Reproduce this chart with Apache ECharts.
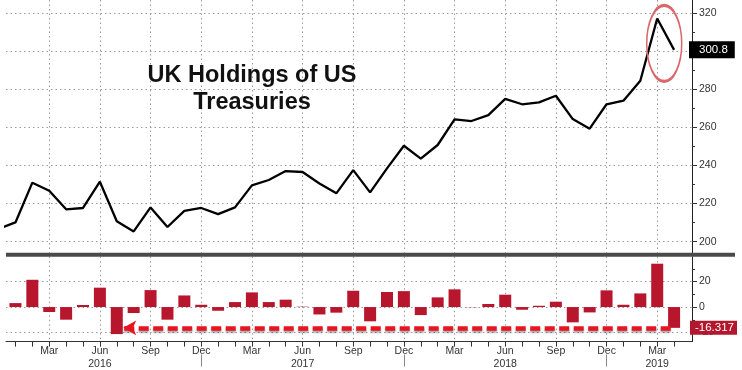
<!DOCTYPE html>
<html>
<head>
<meta charset="utf-8">
<script src="https://cdn.jsdelivr.net/npm/echarts@6/dist/echarts.min.js"></script>
<style>
html,body{margin:0;padding:0;background:#fff;}
#chart{width:742px;height:370px;}
</style>
</head>
<body>
<div id="chart"></div>
<script>
// ---- data ----
const periods = ['Dec 2015',
  'Jan 2016','Feb 2016','Mar 2016','Apr 2016','May 2016','Jun 2016','Jul 2016','Aug 2016','Sep 2016','Oct 2016','Nov 2016','Dec 2016',
  'Jan 2017','Feb 2017','Mar 2017','Apr 2017','May 2017','Jun 2017','Jul 2017','Aug 2017','Sep 2017','Oct 2017','Nov 2017','Dec 2017',
  'Jan 2018','Feb 2018','Mar 2018','Apr 2018','May 2018','Jun 2018','Jul 2018','Aug 2018','Sep 2018','Oct 2018','Nov 2018','Dec 2018',
  'Jan 2019','Feb 2019','Mar 2019','Apr 2019'];
const holdings = [206.8,
  210.1, 231.0, 226.8, 217.0, 217.7, 231.5, 210.7, 205.4, 218.0, 207.7, 216.2, 217.7,
  214.5, 218.0, 229.6, 232.4, 237.1, 236.6, 230.6, 225.4, 237.6, 225.9, 238.5, 250.4,
  243.6, 250.8, 264.3, 263.4, 266.5, 275.0, 272.2, 273.2, 276.7, 264.4, 259.4, 272.2,
  274.1, 284.6, 317.3, 300.8];
const changePeriods = periods.slice(1);
const changes = [
  3.1, 21.4, -3.9, -9.9, 1.6, 15.2, -21.2, -4.7, 13.3, -9.9, 9.1, 1.8,
  -2.9, 3.9, 11.5, 3.9, 5.8, 0.3, -5.8, -4.4, 12.8, -11.2, 11.8, 12.5,
  -6.3, 7.6, 13.9, -0.2, 2.4, 9.7, -2.1, 1.0, 4.2, -12.0, -4.2, 13.1,
  1.8, 10.7, 34.0, -16.317];
const xLabelPeriods = ['Mar 2016','Jun 2016','Sep 2016','Dec 2016','Mar 2017','Jun 2017','Sep 2017','Dec 2017','Mar 2018','Jun 2018','Sep 2018','Dec 2018','Mar 2019'];
const xLabelTexts = ['Mar','Jun\n2016','Sep','Dec','Mar','Jun\n2017','Sep','Dec','Mar','Jun\n2018','Sep','Dec','Mar\n2019'];
const yearDividerPeriods = ['Dec 2016','Dec 2017','Dec 2018'];
const topTicks = [200, 220, 240, 260, 280, 300, 320];
const topMinorTicks = [200, 210, 220, 230, 240, 250, 260, 270, 280, 290, 300, 310, 320];
const bottomTicks = [-20, 0, 20];
const bottomMinorTicks = [-20, -10, 0, 10, 20, 30];
const titleLines = ['UK Holdings of US', 'Treasuries'];
const lastLevelLabel = '300.8';
const lastChangeLabel = '-16.317';

// ---- helpers ----
const xOf = p => periods.indexOf(p) - 1;
const monthIdx = changePeriods.map(xOf);
const quarterIdx = xLabelPeriods.map(xOf);
const dividerIdx = yearDividerPeriods.map(xOf);
const X_MIN = -0.56, X_MAX = 40.06;
const FONT = '"Liberation Sans", Arial, sans-serif';
const dotted = {color: '#9a9a9a', width: 1, type: [1.5, 3]};
const hiddenLine = {color: 'rgba(0,0,0,0)', width: 0};

const lastIdx = changes.length - 1;
const lastChange = changes[lastIdx];
const minChangeIdx = changes.indexOf(Math.min(...changes));
const peakIdx = holdings.indexOf(Math.max(...holdings));

function xAx(extra) {
  return Object.assign({type: 'value', min: X_MIN, max: X_MAX, position: 'bottom',
    axisLine: {show: false, onZero: false}, axisTick: {show: false},
    axisLabel: {show: false}, splitLine: {show: false}}, extra);
}
function yAx(extra) {
  return Object.assign({type: 'value', position: 'right',
    axisLine: {show: false, onZero: false}, axisTick: {show: false},
    axisLabel: {show: false}, splitLine: {show: false}}, extra);
}

const chart = echarts.init(document.getElementById('chart'), null, {renderer: 'canvas'});
chart.setOption({
  animation: false,
  backgroundColor: '#fff',
  textStyle: {fontFamily: FONT},
  grid: [
    {left: 6, right: 50, top: 0, height: 252.7},
    {left: 6, right: 50, top: 256.7, height: 85.3}
  ],
  xAxis: [
    xAx({gridIndex: 0, axisTick: {show: false, customValues: quarterIdx},
      splitLine: {show: true, lineStyle: dotted}}),
    xAx({gridIndex: 1,
      axisLine: {show: true, onZero: false, lineStyle: {color: '#333', width: 1}},
      axisTick: {show: true, customValues: monthIdx, length: 5, lineStyle: {color: '#333'}},
      axisLabel: {show: true, customValues: quarterIdx, margin: 3, fontSize: 10.5, color: '#333', lineHeight: 12.7,
        formatter: v => { const k = quarterIdx.indexOf(Math.round(v)); return k >= 0 ? xLabelTexts[k] : ''; }}}),
    xAx({gridIndex: 1, axisTick: {show: false, customValues: quarterIdx},
      splitLine: {show: true, lineStyle: dotted}}),
    xAx({gridIndex: 1, offset: 13,
      axisTick: {show: true, customValues: dividerIdx, length: 12, lineStyle: {color: '#888'}}})
  ],
  yAxis: [
    yAx({gridIndex: 0, min: 194.2, max: 327.0,
      axisLine: {show: true, onZero: false, lineStyle: {color: '#222', width: 1}},
      axisTick: {show: true, customValues: topTicks, length: 5, lineStyle: {color: '#333'}},
      axisLabel: {show: true, customValues: topTicks, margin: 7, fontSize: 10.5, color: '#333'},
      splitLine: {show: true, lineStyle: dotted}}),
    yAx({gridIndex: 0, min: 194.2, max: 327.0,
      axisTick: {show: true, customValues: topMinorTicks, length: 3, lineStyle: {color: '#333'}}}),
    yAx({gridIndex: 1, min: -27.1, max: 39.5,
      axisLine: {show: true, onZero: false, lineStyle: {color: '#222', width: 1}},
      axisTick: {show: true, customValues: bottomTicks, length: 5, lineStyle: {color: '#333'}},
      axisLabel: {show: true, customValues: bottomTicks, margin: 7, fontSize: 10.5, color: '#333'},
      splitLine: {show: true, lineStyle: dotted}}),
    yAx({gridIndex: 1, min: -27.1, max: 39.5,
      axisTick: {show: true, customValues: bottomMinorTicks, length: 3, lineStyle: {color: '#333'}}})
  ],
  graphic: [
    {type: 'rect', shape: {x: 6, y: 252.7, width: 729, height: 4}, style: {fill: '#4a4a4a'}, z: 10},
    {type: 'text', x: 252, y: 62, z: 20,
      style: {text: titleLines.join('\n'), font: 'bold 23.5px ' + FONT, fill: '#111', align: 'center', verticalAlign: 'top', lineHeight: 27}}
  ],
  series: [
    {
      type: 'line', xAxisIndex: 0, yAxisIndex: 0,
      data: holdings.map((v, i) => [xOf(periods[i]), v]),
      showSymbol: false, symbol: 'none',
      lineStyle: {color: '#000', width: 2.3},
      markLine: {
        silent: true, symbol: 'none',
        lineStyle: hiddenLine,
        data: [{yAxis: holdings[holdings.length - 1]}],
        label: {show: true, position: 'end', distance: -3, formatter: lastLevelLabel,
          backgroundColor: '#000', color: '#fff', fontSize: 11.5, padding: [3, 7, 2, 10], fontFamily: FONT}
      },
      markPoint: {
        silent: true,
        data: [{coord: [xOf(periods[peakIdx]), holdings[peakIdx]]}],
        symbol: 'circle', symbolSize: [35, 76], symbolOffset: [7, 25],
        itemStyle: {color: 'rgba(0,0,0,0)', borderColor: '#d9676b', borderWidth: 2.2},
        label: {show: false}
      }
    },
    {
      type: 'bar', xAxisIndex: 1, yAxisIndex: 2,
      data: changes.map((v, i) => [xOf(changePeriods[i]), v]),
      barWidth: 12,
      itemStyle: {color: '#b8162c'},
      markLine: {
        silent: true, symbol: ['none', 'arrow'], symbolSize: [11, 13],
        lineStyle: {color: '#e8141f', width: 4.5, type: [10, 4.5],
          shadowColor: 'rgba(0,0,0,0.35)', shadowBlur: 2, shadowOffsetY: 2},
        label: {show: false},
        data: [[
          {coord: [xOf(changePeriods[lastIdx]) - 0.2, lastChange]},
          {coord: [xOf(changePeriods[minChangeIdx]) + 0.38, lastChange]}
        ]]
      }
    },
    {
      type: 'scatter', xAxisIndex: 1, yAxisIndex: 2,
      data: [[xOf(changePeriods[lastIdx]), lastChange]],
      symbolSize: 0, silent: true,
      markLine: {
        silent: true, symbol: 'none',
        lineStyle: hiddenLine,
        data: [{yAxis: lastChange}],
        label: {show: true, position: 'end', distance: -2, formatter: lastChangeLabel,
          backgroundColor: '#b3172d', color: '#fff', fontSize: 11.5, padding: [1, 3, 1, 5], fontFamily: FONT}
      }
    }
  ]
});
</script>
</body>
</html>
